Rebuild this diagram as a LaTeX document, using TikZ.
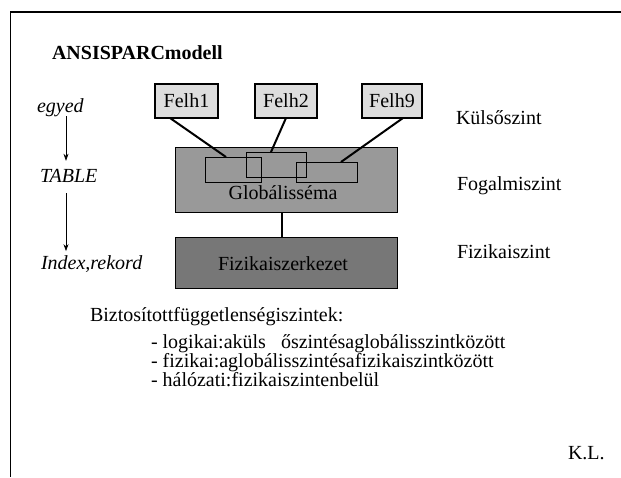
\documentclass[tikz,border=0pt]{standalone}
\usepackage{fontspec}
\setmainfont{Liberation Serif}
\usetikzlibrary{arrows.meta}
\definecolor{userfill}{HTML}{DDDDDD}
\definecolor{globfill}{HTML}{999999}
\definecolor{physfill}{HTML}{777777}
\begin{document}
\begin{tikzpicture}[x=1pt,y=-1pt,
  every node/.style={font=\fontsize{20}{24}\selectfont, inner sep=0pt, outer sep=0pt},
  txt/.style={anchor=base west},
  ctxt/.style={anchor=base},
  userbox/.style={draw, line width=1.4pt, fill=userfill, minimum height=34pt},
  levelbox/.style={draw, line width=0.7pt, minimum width=222pt},
  viewbox/.style={draw, line width=0.7pt},
  link/.style={line width=2pt},
  flow/.style={line width=0.7pt, -{Stealth[length=7pt,width=5pt]}}
]
\useasboundingbox (0,0) rectangle (621,477);
% frame
\draw[line width=1.4pt] (621,12) -- (10.5,12) -- (10.5,477);

% title
\node[txt, font=\fontsize{20}{24}\selectfont\bfseries] (title) at (52,59) {ANSISPARCmodell};

% left column: entity chain
\coordinate (ax) at (66,0);
\node[txt, font=\fontsize{20}{24}\selectfont\itshape] (egy) at (37,112) {egyed};
\node[txt, font=\fontsize{20}{24}\selectfont\itshape] (tab) at (40,182) {TABLE};
\node[txt, font=\fontsize{20}{24}\selectfont\itshape] (idx) at (41,269) {Index,rekord};
\draw[flow, shorten >=8pt] (egy.south -| ax) -- (tab.north -| ax);
\draw[flow, shorten <=11pt, shorten >=4pt] (tab.south -| ax) -- (idx.north -| ax);

% levels
\node[levelbox, fill=globfill, minimum height=65pt] (glob) at (286,179.5) {};
\node[levelbox, fill=physfill, minimum height=51pt] (phys) at (286,262.5) {};
\node[ctxt] (globtxt) at (283,199) {Globálisséma};
\node[ctxt] (phystxt) at (283,270) {Fizikaiszerkezet};
\draw[link] (glob.south -| 282,0) -- (phys.north -| 282,0);

% views inside the global schema
\node[viewbox, minimum width=56pt, minimum height=25pt] (v1) at (233,169.5) {};
\node[viewbox, minimum width=60pt, minimum height=25pt] (v2) at (276,164.5) {};
\node[viewbox, minimum width=61pt, minimum height=20pt] (v3) at (326.5,172) {};

% user views
\node[userbox, minimum width=63pt] (u1) at (186.5,101) {Felh1};
\node[userbox, minimum width=62pt] (u2) at (286,101) {Felh2};
\node[userbox, minimum width=60pt] (u9) at (392,101) {Felh9};
\draw[link] ([xshift=-16.5pt]u1.south) -- ([xshift=-7pt]v1.north);
\draw[link] (u2.south) -- ([xshift=-5pt]v2.north);
\draw[link] ([xshift=11pt]u9.south) -- ([xshift=14.5pt]v3.north);

% level names
\node[txt] (kul) at (456,124) {Külsőszint};
\node[txt] (fog) at (457,190) {Fogalmiszint};
\node[txt] (fiz) at (457,258) {Fizikaiszint};

% independence levels
\node[txt] (bizt) at (90,321) {Biztosítottfüggetlenségiszintek:};
\node[txt] (l1) at (151,348) {- logikai:aküls\hspace{15pt}őszintésaglobálisszintközött};
\node[txt] (l2) at (151,367) {- fizikai:aglobálisszintésafizikaiszintközött};
\node[txt] (l3) at (151,386) {- hálózati:fizikaiszintenbelül};

\node[txt] (kl) at (568,459) {K.L.};
\end{tikzpicture}
\end{document}
